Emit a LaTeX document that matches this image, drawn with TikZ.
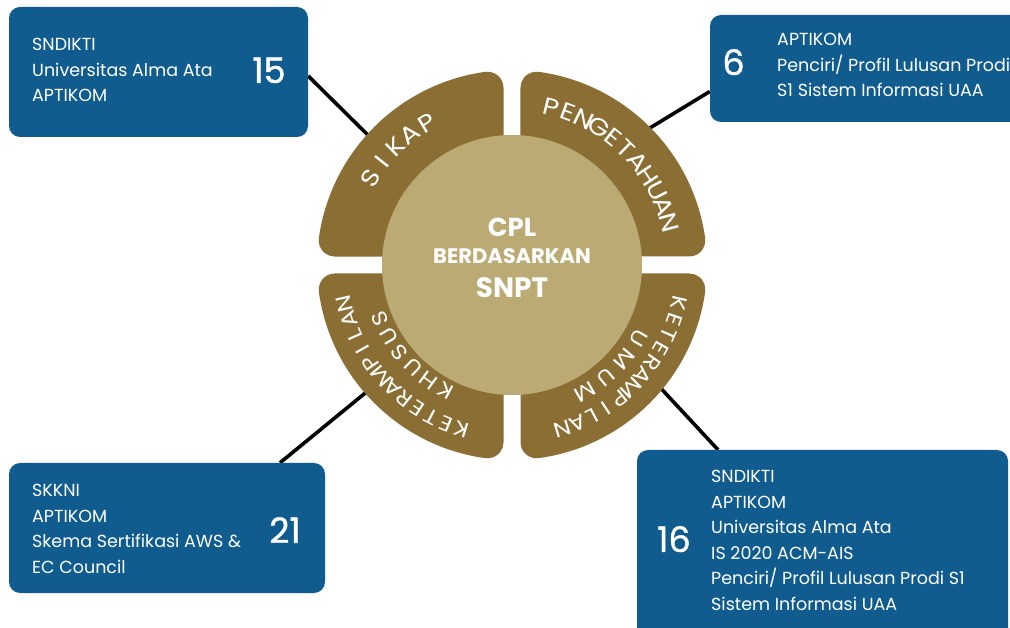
\documentclass[tikz,border=0pt]{standalone}
\usepackage{fontspec}
\setmainfont{Poppins}
\usetikzlibrary{calc}
\pgfdeclarelayer{background}
\pgfsetlayers{background,main}
\definecolor{boxblue}{RGB}{16,92,143}
\definecolor{petalc}{RGB}{139,110,52}
\definecolor{corec}{RGB}{188,170,116}
\newcommand\petalbig{\fontsize{24}{24}\selectfont\addfontfeature{FakeStretch=1.15}}
\newcommand\petalsmall{\fontsize{21}{21}\selectfont\addfontfeature{FakeStretch=1.15}}
\newlength\atlen
% #1 name prefix, #2 font, #3 baseline radius, #4 start angle, #5 end angle (clockwise), #6 letters
\newcommand\arctext[6]{%
  \xdef\atW{0}\xdef\atN{0}%
  \foreach \ch in {#6}{%
    \settowidth{\atlen}{#2\ch}%
    \pgfmathsetmacro\tmp{\atW+\atlen}\xdef\atW{\tmp}%
    \pgfmathsetmacro\tmp{\atN+1}\xdef\atN{\tmp}}%
  \pgfmathsetmacro\atA{#3*(abs(#4-(#5))/180*pi)}%
  \pgfmathsetmacro\atS{(\atA-\atW)/(\atN-1)}%
  \xdef\atD{0}%
  \foreach \ch [count=\ci] in {#6}{%
    \settowidth{\atlen}{#2\ch}%
    \pgfmathsetmacro\dc{\atD+\atlen/2}%
    \pgfmathsetmacro\ang{#4-(\dc/#3)/pi*180}%
    \node[anchor=base, inner sep=0pt, text=white, font=#2, rotate=\ang-90] (#1\ci) at ($(C)+(\ang:#3)$) {\ch};
    \pgfmathsetmacro\tmp{\atD+\atlen+\atS}\xdef\atD{\tmp}}%
}
\begin{document}
\begin{tikzpicture}[x=1pt,y=1pt,
  box/.style={rectangle, rounded corners=11pt, fill=boxblue, inner sep=0pt},
  conn/.style={line width=3.6pt, black},
  btext/.style={anchor=base west, inner sep=0pt, text=white, font=\fontsize{17.5}{25.5}\selectfont},
  bnum/.style={anchor=base, inner sep=0pt, text=white, font=\fontsize{35}{35}\selectfont\addfontfeature{FakeBold=1.2}},
  ctext/.style={anchor=base, inner sep=0pt, text=white},
  petalpic/.pic={\fill[petalc] (-\pg,\pg) -- (-\pg,\pyF)
      arc[start angle=0, end angle=\pph, radius=\pr]
      arc[start angle=\pph, end angle=\pphb, radius=\pR]
      arc[start angle=\pphb, end angle=270, radius=\pr] -- cycle;}
]
\useasboundingbox (0,0) rectangle (1010,627);
\pgfmathsetmacro\pR{195}
\pgfmathsetmacro\pg{8.5}
\pgfmathsetmacro\pr{16}
\pgfmathsetmacro\pyF{10*sqrt(((\pR-\pr)/10)^2-((\pg+\pr)/10)^2)}
\pgfmathsetmacro\pph{180-atan(\pyF/(\pg+\pr))}
\pgfmathsetmacro\pphb{270-\pph}

\begin{pgfonlayer}{background}
\fill[white] (0,0) rectangle (1010,627);
\end{pgfonlayer}

\coordinate (C) at (512,362);

% boxes
\node[box, minimum width=299pt, minimum height=130pt] (tlbox) at (158.5,555) {};
\node[box, minimum width=330pt, minimum height=107pt] (trbox) at (875,558.5) {};
\node[box, minimum width=316pt, minimum height=130pt] (blbox) at (167,99) {};
\node[box, minimum width=371pt, minimum height=200pt] (brbox) at (822.5,77) {};

% box texts
\node[btext] (tltext) at (32,576) {\vtop{\hbox{SNDIKTI}\hbox{Universitas Alma Ata}\hbox{APTIKOM}}};
\node[bnum] (tlnum) at (269,544) {15};
\node[btext] (trtext) at (777,581) {\vtop{\hbox{APTIKOM}\hbox{Penciri/ Profil Lulusan Prodi}\hbox{S1 Sistem Informasi UAA}}};
\node[bnum] (trnum) at (733.5,552) {6};
\node[btext] (bltext) at (32,130) {\vtop{\hbox{SKKNI}\hbox{APTIKOM}\hbox{Skema Sertifikasi AWS \&}\hbox{EC Council}}};
\node[bnum] (blnum) at (285,84) {21};
\node[btext] (brtext) at (711,144) {\vtop{\hbox{SNDIKTI}\hbox{APTIKOM}\hbox{Universitas Alma Ata}\hbox{IS 2020 ACM-AIS}\hbox{Penciri/ Profil Lulusan Prodi S1}\hbox{Sistem Informasi UAA}}};
\node[bnum] (brnum) at (674,75) {16};

% connector end points inside the petals
\coordinate (tlp) at (380,480);
\coordinate (trp) at (640,493);
\coordinate (blp) at (375,242);
\coordinate (brp) at (655,245);
\begin{pgfonlayer}{background}
\draw[conn] ([yshift=-4pt]tlbox.east) -- (tlp);
\draw[conn] ([yshift=-23pt]trbox.west) -- (trp);
\draw[conn] ([xshift=113pt]blbox.north) -- (blp);
\draw[conn] ([xshift=-104.5pt]brbox.north) -- (brp);
\end{pgfonlayer}

% petals
\pic at (C) {petalpic};
\pic[rotate=-90] at (C) {petalpic};
\pic[rotate=180] at (C) {petalpic};
\pic[rotate=90] at (C) {petalpic};

% core
\node[circle, fill=corec, minimum size=260pt, inner sep=0pt] (core) at (C) {};
\node[ctext, font=\bfseries\fontsize{26}{26}\selectfont] (cpl) at (512,390) {CPL};
\node[ctext, font=\bfseries\fontsize{21}{21}\selectfont] (berd) at (512,363) {BERDASARKAN};
\node[ctext, font=\bfseries\fontsize{28}{28}\selectfont] (snpt) at (512,329) {SNPT};

% petal labels
\arctext{sik}{\petalbig}{157.5}{148.5}{121}{S,I,K,A,P}
\arctext{pen}{\petalbig}{154.5}{76}{15}{P,E,N,G,E,T,A,H,U,A,N}
\arctext{kum}{\petalsmall}{164}{-13}{-73}{K,E,T,E,R,A,M,P,I,L,A,N}
\arctext{umu}{\petalsmall}{139}{-30}{-60}{U,M,U,M}
\arctext{kkh}{\petalsmall}{164.5}{-107}{-167}{K,E,T,E,R,A,M,P,I,L,A,N}
\arctext{khu}{\petalsmall}{135}{-118}{-158}{K,H,U,S,U,S}
\end{tikzpicture}
\end{document}
